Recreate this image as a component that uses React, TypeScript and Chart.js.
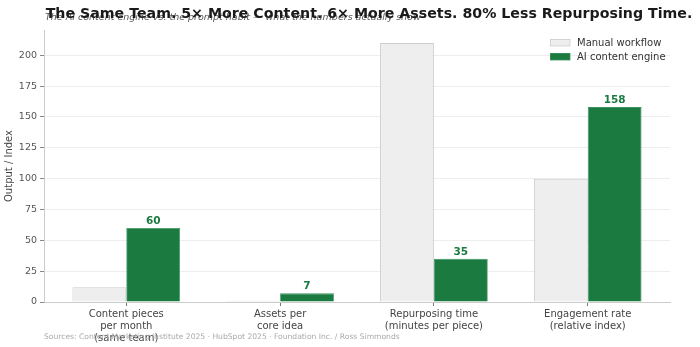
import React, { useEffect, useRef } from "react";
import { Chart, registerables } from "chart.js";

Chart.register(...registerables);

const CATEGORIES: string[][] = [
  ["Content pieces", "per month", "(same team)"],
  ["Assets per", "core idea"],
  ["Repurposing time", "(minutes per piece)"],
  ["Engagement rate", "(relative index)"],
];
const MANUAL_VALUES = [12, 1, 210, 100];
const AI_VALUES = [60, 7, 35, 158];
const SERIES_NAMES = ["Manual workflow", "AI content engine"];
const Y_TICK_STEP = 25;

const TITLE = "The Same Team. 5\u00d7 More Content. 6\u00d7 More Assets. 80% Less Repurposing Time.";
const SUBTITLE = "The AI content engine vs. the prompt habit \u2014 what the numbers actually show";
const SOURCE = "Sources: Content Marketing Institute 2025 \u00b7 HubSpot 2025 \u00b7 Foundation Inc. / Ross Simmonds";
const Y_TITLE = "Output / Index";

const FONT = "'DejaVu Sans', sans-serif";
const GREEN = "#1b7a40";
const GREY_FILL = "#eeeeee";
const GREY_EDGE = "#cccccc";

const overlayPlugin = {
  id: "overlay",
  afterDraw(chart: any) {
    const ctx = chart.ctx as CanvasRenderingContext2D;
    ctx.save();
    // value labels above AI bars
    const meta = chart.getDatasetMeta(1);
    ctx.fillStyle = GREEN;
    ctx.font = `bold 10.5px ${FONT}`;
    ctx.textAlign = "center";
    ctx.textBaseline = "alphabetic";
    meta.data.forEach((bar: any, i: number) => {
      ctx.fillText(String(AI_VALUES[i]), bar.x, bar.y - 4);
    });

    // legend
    const ds = chart.data.datasets;
    const lx = 550;
    const ly = 39;
    ctx.font = `10px ${FONT}`;
    ctx.textAlign = "left";
    ctx.textBaseline = "middle";
    ds.forEach((d: any, i: number) => {
      const y = ly + i * 14;
      ctx.fillStyle = d.backgroundColor;
      ctx.fillRect(lx, y, 20, 7);
      ctx.strokeStyle = d.borderColor;
      ctx.lineWidth = 0.8;
      ctx.strokeRect(lx + 0.5, y + 0.5, 19.5, 6.5);
      ctx.fillStyle = "#333333";
      ctx.fillText(d.label, lx + 27, y + 4);
    });

    // subtitle
    ctx.font = `italic 9.5px ${FONT}`;
    ctx.fillStyle = "#555555";
    ctx.textAlign = "left";
    ctx.textBaseline = "alphabetic";
    ctx.fillText(SUBTITLE, 45, 20);

    // title
    ctx.font = `bold 14.2px ${FONT}`;
    ctx.fillStyle = "#1a1a1a";
    ctx.textAlign = "center";
    ctx.fillText(TITLE, 369, 18);

    // source
    ctx.font = `7.6px ${FONT}`;
    ctx.fillStyle = "#aaaaaa";
    ctx.textAlign = "left";
    ctx.fillText(SOURCE, 44, 339);
    ctx.restore();
  },
};

export default function App() {
  const ref = useRef<HTMLCanvasElement>(null);
  useEffect(() => {
    if (!ref.current) return;
    const chart = new Chart(ref.current, {
      type: "bar",
      data: {
        datasets: [
          {
            label: SERIES_NAMES[0],
            data: MANUAL_VALUES.map((v, i) => ({ x: i, y: v })),
            backgroundColor: GREY_FILL,
            borderColor: GREY_EDGE,
            borderWidth: 1,
            categoryPercentage: 0.7,
            barPercentage: 1.0,
          },
          {
            label: SERIES_NAMES[1],
            data: AI_VALUES.map((v, i) => ({ x: i, y: v })),
            backgroundColor: GREEN,
            borderColor: "#3c9360",
            borderWidth: 0.8,
            categoryPercentage: 0.7,
            barPercentage: 1.0,
          },
        ],
      },
      options: {
        responsive: false,
        animation: false,
        layout: { padding: { top: 30, right: 30, left: 0, bottom: 0 } },
        plugins: {
          legend: { display: false },
          tooltip: { enabled: false },
          title: { display: false },
        },
        scales: {
          x: {
            type: "linear",
            min: -0.535,
            max: 3.535,
            offset: false,
            afterBuildTicks: (scale: any) => {
              scale.ticks = CATEGORIES.map((_, i) => ({ value: i }));
            },
            afterFit: (scale: any) => {
              scale.height = 45;
            },
            ticks: {
              autoSkip: false,
              maxRotation: 0,
              padding: 2,
              color: "#444444",
              font: { family: FONT, size: 10, lineHeight: 1.2 },
              callback: (v: any) => CATEGORIES[Math.round(Number(v))] ?? "",
            },
            grid: {
              offset: false,
              display: true,
              drawOnChartArea: false,
              drawTicks: true,
              tickLength: 4,
              color: "#777777",
              tickColor: "#777777",
            },
            border: { display: true, color: GREY_EDGE, width: 1 },
          },
          y: {
            min: 0,
            max: 220.5,
            afterBuildTicks: (scale: any) => {
              scale.ticks = scale.ticks.filter((t: any) => t.value % Y_TICK_STEP === 0);
            },
            afterFit: (scale: any) => {
              scale.width = 44;
            },
            ticks: {
              stepSize: Y_TICK_STEP,
              padding: 3,
              color: "#555555",
              font: { family: FONT, size: 9.5 },
            },
            grid: {
              color: "#eeeeee",
              lineWidth: 1,
              drawTicks: true,
              tickLength: 4,
              tickColor: "#888888",
            },
            border: { display: true, color: GREY_EDGE, width: 1 },
            title: {
              display: true,
              text: Y_TITLE,
              color: "#444444",
              font: { family: FONT, size: 10 },
              padding: { top: 3, bottom: 0 },
            },
          },
        },
      },
      plugins: [overlayPlugin],
    } as any);
    return () => chart.destroy();
  }, []);
  return (
    <canvas
      ref={ref}
      width={700}
      height={347}
      style={{ position: "absolute", left: 0, top: 0, display: "block", background: "#ffffff" }}
    />
  );
}
